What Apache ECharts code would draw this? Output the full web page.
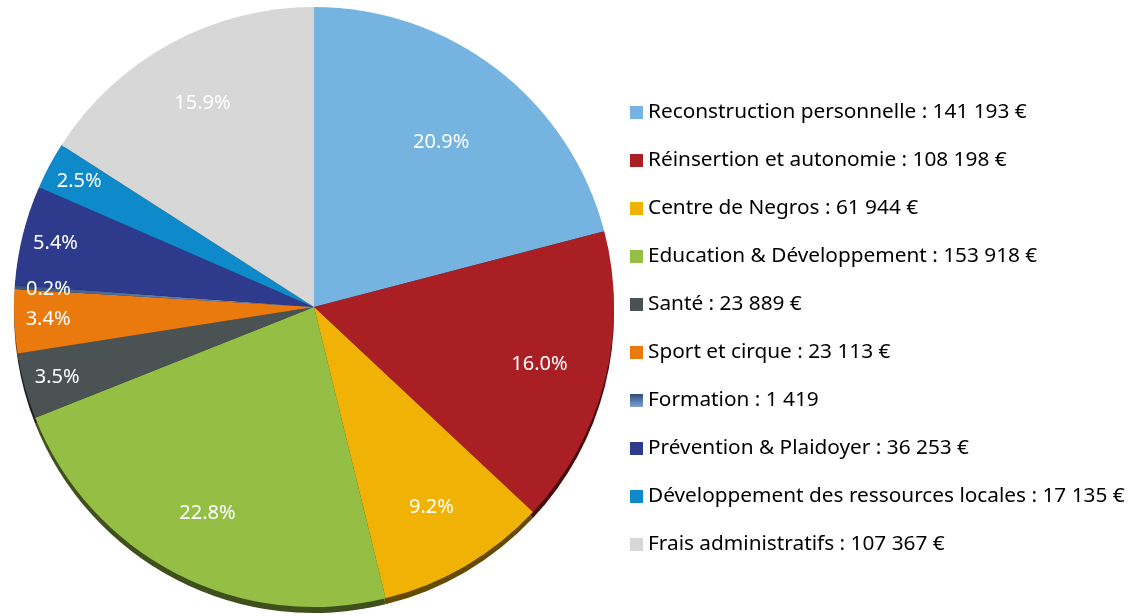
<!DOCTYPE html>
<html>
<head>
  <meta charset="UTF-8">
  <title>Répartition des dépenses</title>
  <script src="https://cdn.jsdelivr.net/npm/echarts@6/dist/echarts.min.js"></script>
  <style>
    html, body { margin: 0; padding: 0; background: #fff; }
    #main { width: 1133px; height: 616px; }
  </style>
</head>
<body>
  <div id="main"></div>
  <script>
    // categories and amounts (euros)
    var categories = ['Reconstruction personnelle', 'Réinsertion et autonomie', 'Centre de Negros',
      'Education & Développement', 'Santé', 'Sport et cirque', 'Formation',
      'Prévention & Plaidoyer', 'Développement des ressources locales', 'Frais administratifs'];
    var amounts = [141193, 108198, 61944, 153918, 23889, 23113, 1419, 36253, 17135, 107367];
    var units = ['€', '€', '€', '€', '€', '€', '', '€', '€', '€'];
    var colors = ['#75B4E0', '#AA1F24', '#EFB205', '#95BE45', '#4A5254', '#EA7A0D',
      '#4F6F9E', '#2E3A8B', '#0E89C9', '#D7D7D7'];

    var total = amounts.reduce(function (a, b) { return a + b; }, 0);

    var formationColor = new echarts.graphic.LinearGradient(0, 0, 0, 1, [
      { offset: 0, color: '#2F4C78' },
      { offset: 1, color: '#7FA2D4' }
    ]);

    function fmt(n) {
      return String(n).replace(/\B(?=(\d{3})+(?!\d))/g, ' ');
    }

    // simple darken: scale rgb channels
    function darken(hex, f) {
      var n = parseInt(hex.slice(1), 16);
      var rr = Math.round(((n >> 16) & 255) * f);
      var gg = Math.round(((n >> 8) & 255) * f);
      var bb = Math.round((n & 255) * f);
      return 'rgb(' + rr + ',' + gg + ',' + bb + ')';
    }

    var cx = 314, cy = 307, r = 300;
    var font = 'Noto Sans';

    var data = categories.map(function (c, i) {
      return {
        name: c,
        value: amounts[i],
        itemStyle: { color: i === 6 ? formationColor : colors[i] }
      };
    });

    // darker copy of the pie, pushed down a little: the 3D rim
    var rimData = categories.map(function (c, i) {
      return {
        name: c,
        value: amounts[i],
        itemStyle: { color: darken(colors[i], 0.42) }
      };
    });

    var myChart = echarts.init(document.getElementById('main'));
    var option = {
      animation: false,
      legend: {
        orient: 'vertical',
        left: 625,
        top: 97,
        itemWidth: 13,
        itemHeight: 13,
        itemGap: 27,
        icon: 'rect',
        data: categories,
        textStyle: {
          fontFamily: font,
          fontSize: 20.8,
          lineHeight: 20,
          color: '#000'
        },
        formatter: function (name) {
          var i = categories.indexOf(name);
          return name + ' : ' + fmt(amounts[i]) + (units[i] ? ' ' + units[i] : '');
        }
      },
      series: [{
        type: 'pie',
        name: 'main',
        z: 3,
        center: [cx, cy],
        radius: r,
        startAngle: 90,
        clockwise: true,
        data: data,
        label: {
          position: 'inside',
          color: '#fff',
          fontFamily: font,
          fontSize: 20,
          formatter: function (p) { return p.percent.toFixed(1) + '%'; }
        },
        labelLine: { show: false },
        labelLayout: function (p) {
          // push inside labels outward, like the original best-fit placement
          var lx = p.labelRect.x + p.labelRect.width / 2;
          var ly = p.labelRect.y + p.labelRect.height / 2;
          var share = amounts[p.dataIndex] / total;
          var k = share < 0.07 ? 1.74 : (share > 0.2 && share < 0.22 ? 1.36 : 1.52);
          return {
            x: cx + (lx - cx) * k,
            y: cy + (ly - cy) * k,
            align: 'center',
            verticalAlign: 'middle'
          };
        },
        emphasis: { disabled: true }
      }, {
        type: 'pie',
        name: 'rim',
        z: 1,
        silent: true,
        center: [cx, cy + 6],
        radius: r,
        startAngle: 90,
        clockwise: true,
        data: rimData,
        label: { show: false },
        labelLine: { show: false },
        emphasis: { disabled: true }
      }]
    };
    myChart.setOption(option);
  </script>
</body>
</html>
